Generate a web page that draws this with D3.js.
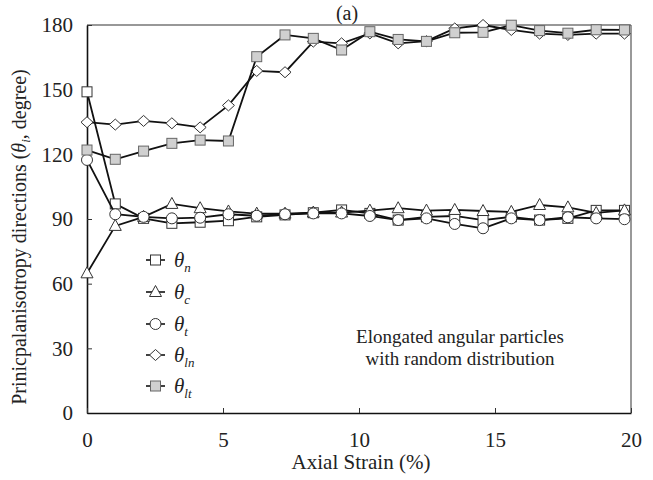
<!DOCTYPE html>
<html>
<head>
<meta charset="utf-8">
<script src="https://cdn.jsdelivr.net/npm/d3@7"></script>
<style>
  html, body { margin: 0; padding: 0; background: #fff; }
  svg { display: block; font-family: "Liberation Serif", "Times New Roman", serif; }
  svg text { font-family: "Liberation Serif", "Times New Roman", serif; }
</style>
</head>
<body>
<svg id="chart" width="653" height="480"></svg>
<script>
// Axial strain (%) at each recorded state
const strain = [0, 1.04, 2.08, 3.12, 4.16, 5.2, 6.24, 7.28, 8.32, 9.36,
                10.4, 11.44, 12.48, 13.52, 14.56, 15.6, 16.64, 17.68, 18.72, 19.76];

// Principal anisotropy directions (degree)
const thetaN  = [149, 97, 90.3, 88, 88.5, 89.2, 91, 91.9, 92.9, 94.2,
                 92.6, 89.5, 91, 91.4, 89.5, 91, 89.5, 90.3, 94, 94];
const thetaC  = [64.8, 86.8, 91, 97, 95, 93.5, 92.5, 92.5, 93, 93,
                 93.9, 95, 93.9, 94.2, 93.7, 93.3, 96.5, 95.4, 92.8, 94];
const thetaT  = [117.4, 92.2, 91, 90.3, 90.6, 92.2, 91.5, 92.2, 92.6, 92.6,
                 91.4, 89.5, 90.3, 87.7, 85.7, 90.3, 89.5, 90.8, 90.3, 89.9];
const thetaLn = [134.9, 133.8, 135.5, 134.4, 132.5, 142.7, 158.7, 158.1, 172.3, 171.5,
                 176.1, 171.5, 172.5, 178.4, 180, 177.7, 176, 175.4, 176, 176];
const thetaLt = [122, 117.7, 121.5, 125.1, 126.6, 126.2, 165.3, 175.4, 173.8, 168.4,
                 176.9, 173.3, 172.4, 176.4, 176.6, 179.9, 177.4, 176.2, 177.8, 177.7];

const seriesNames = ["n", "c", "t", "ln", "lt"];
const xTicks = [0, 5, 10, 15, 20];
const yTicks = [0, 30, 60, 90, 120, 150, 180];

const svg = d3.select("#chart");
const m = { left: 87, top: 25, right: 631, bottom: 413 };

const x = d3.scaleLinear().domain([0, 20]).range([m.left, m.right]);
const y = d3.scaleLinear().domain([0, 180]).range([m.bottom, m.top]);

// frame: top and right borders
svg.append("line").attr("x1", m.left).attr("x2", m.right).attr("y1", m.top).attr("y2", m.top)
  .attr("stroke", "#333").attr("stroke-width", 1.2);
svg.append("line").attr("x1", m.right).attr("x2", m.right).attr("y1", m.top).attr("y2", m.bottom)
  .attr("stroke", "#555").attr("stroke-width", 1.2);

// axes with inward ticks
const yAxis = svg.append("g").attr("transform", `translate(${m.left},0)`)
  .call(d3.axisLeft(y).tickValues(yTicks).tickSize(-5).tickPadding(14).tickSizeOuter(0));
const xAxis = svg.append("g").attr("transform", `translate(0,${m.bottom})`)
  .call(d3.axisBottom(x).tickValues(xTicks).tickSize(-5).tickPadding(19).tickSizeOuter(0));

[xAxis, yAxis].forEach(g => {
  g.attr("font-family", null);
  g.select(".domain").attr("stroke", "#111").attr("stroke-width", 1.6);
  g.selectAll(".tick line").attr("stroke", "#333").attr("stroke-width", 1);
  g.selectAll(".tick text").attr("font-size", 21).attr("fill", "#222");
});

// data series
const series = [
  { key: "n",  values: thetaN,  shape: "square",   fill: "#fff",    stroke: "#333" },
  { key: "c",  values: thetaC,  shape: "triangle", fill: "#fff",    stroke: "#333" },
  { key: "t",  values: thetaT,  shape: "circle",   fill: "#fff",    stroke: "#333" },
  { key: "ln", values: thetaLn, shape: "diamond",  fill: "#fff",    stroke: "#333" },
  { key: "lt", values: thetaLt, shape: "square",   fill: "#d0d0d0", stroke: "#666" }
];

function marker(g, shape, cx, cy, fill, stroke) {
  if (shape === "square") {
    g.append("rect").attr("x", cx - 5).attr("y", cy - 5).attr("width", 10).attr("height", 10)
      .attr("fill", fill).attr("stroke", stroke).attr("stroke-width", 1);
  } else if (shape === "circle") {
    g.append("circle").attr("cx", cx).attr("cy", cy).attr("r", 5.5)
      .attr("fill", fill).attr("stroke", stroke).attr("stroke-width", 1);
  } else if (shape === "triangle") {
    g.append("path").attr("d", `M${cx},${cy - 6.5}L${cx + 6},${cy + 4.5}L${cx - 6},${cy + 4.5}Z`)
      .attr("fill", fill).attr("stroke", stroke).attr("stroke-width", 1);
  } else if (shape === "diamond") {
    g.append("path").attr("d", `M${cx},${cy - 5.5}L${cx + 6},${cy}L${cx},${cy + 5.5}L${cx - 6},${cy}Z`)
      .attr("fill", fill).attr("stroke", stroke).attr("stroke-width", 1);
  }
}

const line = d3.line().x((d, i) => x(strain[i])).y(d => y(d));

series.forEach(s => {
  const g = svg.append("g");
  g.append("path").datum(s.values).attr("d", line)
    .attr("fill", "none").attr("stroke", "#111").attr("stroke-width", 1.8);
  s.values.forEach((v, i) => marker(g, s.shape, x(strain[i]), y(v), s.fill, s.stroke));
});

// legend
const legRows = [260, 292, 324, 355, 386];
series.forEach((s, i) => {
  const g = svg.append("g");
  const cy = legRows[i];
  g.append("line").attr("x1", 146).attr("x2", 165).attr("y1", cy).attr("y2", cy)
    .attr("stroke", "#111").attr("stroke-width", 1.6);
  marker(g, s.shape, 155.5, cy, s.fill, s.stroke);
  const t = g.append("text").attr("x", 174).attr("y", cy + 7)
    .attr("font-size", 21).attr("font-style", "italic").attr("fill", "#222");
  t.append("tspan").text("θ");
  t.append("tspan").attr("dy", 5).attr("font-size", 13).text(seriesNames[i]);
});

// annotation
const note = svg.append("text").attr("text-anchor", "middle").attr("font-size", 19).attr("fill", "#222");
note.append("tspan").attr("x", 460).attr("y", 343).text("Elongated angular particles");
note.append("tspan").attr("x", 460).attr("y", 365).text("with random distribution");

// axis titles
svg.append("text").attr("x", 361).attr("y", 469).attr("text-anchor", "middle")
  .attr("font-size", 21).attr("fill", "#222").text("Axial Strain (%)");

const yt = svg.append("text").attr("transform", "translate(26,237) rotate(-90)")
  .attr("text-anchor", "middle").attr("font-size", 20).attr("fill", "#222");
yt.append("tspan").text("Prinicpalanisotropy directions (");
yt.append("tspan").attr("font-style", "italic").text("θ");
yt.append("tspan").attr("font-style", "italic").attr("font-size", 13).attr("dy", 4).text("i");
yt.append("tspan").attr("dy", -4).text(", degree)");

// panel label
svg.append("text").attr("x", 347).attr("y", 20).attr("text-anchor", "middle")
  .attr("font-size", 20).attr("fill", "#222").text("(a)");
</script>
</body>
</html>
